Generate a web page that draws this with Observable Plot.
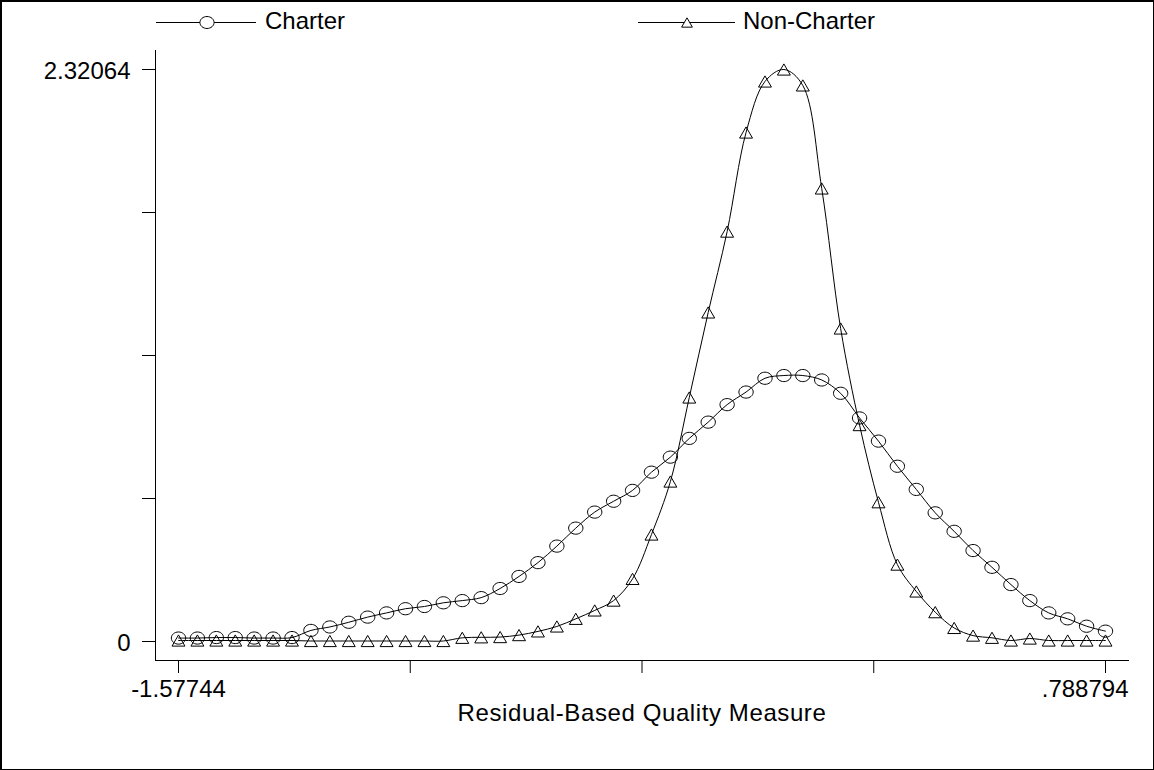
<!DOCTYPE html>
<html>
<head>
<meta charset="utf-8">
<script src="https://cdn.jsdelivr.net/npm/d3@7"></script>
<script src="https://cdn.jsdelivr.net/npm/@observablehq/plot@0.6"></script>
<style>
  html, body { margin: 0; padding: 0; background: #fff; }
  #page { position: relative; width: 1154px; height: 770px; overflow: hidden; background: #fff;
          font-family: "Liberation Sans", Arial, sans-serif; }
  #legend { display: block; }
  #chart svg { display: block; }
  #border { position: absolute; left: 0; top: 0; width: 1154px; height: 770px; box-sizing: border-box;
            border-top: 2px solid #000; border-left: 2px solid #000; border-right: 1px solid #000;
            border-bottom: 1px solid #000; pointer-events: none; }
</style>
</head>
<body>
<div id="page">
  <svg id="legend" width="1154" height="45"></svg>
  <div id="chart"></div>
  <div id="border"></div>
</div>
<script>
// ---- data ----
const seriesNames = ["Charter", "Non-Charter"];
const xGrid = [-1.57744, -1.52915, -1.48086, -1.43257, -1.38428, -1.33599, -1.28770, -1.23941, -1.19112, -1.14283,
               -1.09454, -1.04625, -0.99796, -0.94967, -0.90138, -0.85308, -0.80479, -0.75650, -0.70821, -0.65992,
               -0.61163, -0.56334, -0.51505, -0.46676, -0.41847, -0.37018, -0.32189, -0.27360, -0.22531, -0.17702,
               -0.12873, -0.08044, -0.03215, 0.01614, 0.06443, 0.11272, 0.16102, 0.20931, 0.25760, 0.30589,
               0.35418, 0.40247, 0.45076, 0.49905, 0.54734, 0.59563, 0.64392, 0.69221, 0.74050, 0.788794];
const charter = [0.014, 0.014, 0.016, 0.016, 0.014, 0.014, 0.016, 0.045, 0.059, 0.078,
                 0.099, 0.116, 0.133, 0.142, 0.157, 0.166, 0.178, 0.215, 0.264, 0.320,
                 0.387, 0.460, 0.525, 0.569, 0.613, 0.687, 0.748, 0.824, 0.890, 0.961,
                 1.012, 1.068, 1.079, 1.079, 1.061, 1.007, 0.907, 0.813, 0.711, 0.617,
                 0.522, 0.447, 0.369, 0.301, 0.231, 0.166, 0.116, 0.092, 0.062, 0.042];
const nonCharter = [0.004, 0.004, 0.004, 0.004, 0.004, 0.004, 0.004, 0.002, 0.002, 0.002,
                    0.002, 0.002, 0.002, 0.002, 0.002, 0.015, 0.017, 0.018, 0.026, 0.041,
                    0.061, 0.092, 0.126, 0.166, 0.254, 0.434, 0.649, 0.990, 1.335, 1.663,
                    2.065, 2.272, 2.32064, 2.256, 1.838, 1.270, 0.878, 0.565, 0.312, 0.203,
                    0.119, 0.055, 0.024, 0.015, 0.004, 0.012, 0.004, 0.004, 0.004, 0.004];
const xTicks = [-1.57744, -0.985881, -0.394323, 0.197236, 0.788794];
const xTickLabels = ["-1.57744", "", "", "", ".788794"];
const yTicks = [0, 0.58016, 1.16032, 1.74048, 2.32064];
const yTickLabels = ["0", "", "", "", "2.32064"];
const xTitle = "Residual-Based Quality Measure";

// ---- custom symbols (Stata-like hollow markers) ----
const ellipseSymbol = {
  draw(ctx, size) {
    const r = Math.sqrt(size / Math.PI);
    const rx = r * 1.12, ry = r * 0.95, k = 0.5523;
    ctx.moveTo(rx, 0);
    ctx.bezierCurveTo(rx, ry * k, rx * k, ry, 0, ry);
    ctx.bezierCurveTo(-rx * k, ry, -rx, ry * k, -rx, 0);
    ctx.bezierCurveTo(-rx, -ry * k, -rx * k, -ry, 0, -ry);
    ctx.bezierCurveTo(rx * k, -ry, rx, -ry * k, rx, 0);
    ctx.closePath();
  }
};
const triSymbol = {
  draw(ctx, size) {
    const s = Math.sqrt(4 * size / Math.sqrt(3));
    const h = s * Math.sqrt(3) / 2;
    ctx.moveTo(0, -h / 2);
    ctx.lineTo(s / 2, h / 2);
    ctx.lineTo(-s / 2, h / 2);
    ctx.closePath();
  }
};

const rows = xGrid.flatMap((x, i) => [
  {x, y: charter[i], s: seriesNames[0]},
  {x, y: nonCharter[i], s: seriesNames[1]}
]);

const font = "'Liberation Sans', Arial, sans-serif";
const fs = 24;

const chart = Plot.plot({
  width: 1154,
  height: 725,
  marginTop: 5,
  marginBottom: 110,
  marginLeft: 155,
  marginRight: 26,
  style: {fontFamily: font, fontSize: fs + "px", background: "transparent", color: "#000", overflow: "visible"},
  x: {domain: [xTicks[0], xTicks[xTicks.length - 1]], insetLeft: 23, insetRight: 23},
  y: {domain: [yTicks[0], yTicks[yTicks.length - 1]], insetTop: 19, insetBottom: 19},
  marks: [
    Plot.frame({anchor: "left", stroke: "#000"}),
    Plot.frame({anchor: "bottom", stroke: "#000"}),
    Plot.axisY({ticks: yTicks, tickSize: 13, label: null, stroke: "#000", tickFormat: () => ""}),
    Plot.axisY({ticks: yTicks, tickSize: 0, tickPadding: 25, label: null, dy: 2,
                fontSize: fs, tickFormat: d => yTickLabels[yTicks.indexOf(d)]}),
    Plot.axisX({ticks: xTicks, tickSize: 13, label: null, stroke: "#000", tickFormat: () => ""}),
    Plot.text([0], {x: () => xTicks[0], frameAnchor: "bottom", lineAnchor: "top", dy: 19,
                    text: () => xTickLabels[0], fontSize: fs, fill: "#000"}),
    Plot.text([0], {x: () => xTicks[4], frameAnchor: "bottom", lineAnchor: "top", dy: 19, dx: 23,
                    textAnchor: "end", text: () => xTickLabels[4], fontSize: fs, fill: "#000"}),
    Plot.text([xTitle], {frameAnchor: "bottom", lineAnchor: "middle", dy: 53, text: d => d,
                         fontSize: fs, fill: "#000"}),
    Plot.line(rows, {x: "x", y: "y", z: "s", curve: "catmull-rom", stroke: "#000", strokeWidth: 1}),
    Plot.dot(rows.filter(d => d.s === seriesNames[0]),
             {x: "x", y: "y", symbol: ellipseSymbol, r: 6.4, stroke: "#000", fill: "none", strokeWidth: 1}),
    Plot.dot(rows.filter(d => d.s === seriesNames[1]),
             {x: "x", y: "y", symbol: triSymbol, r: 4.8, stroke: "#000", fill: "none", strokeWidth: 1})
  ]
});
d3.select(chart).selectAll("text")
  .filter(function() { return this.textContent === xTitle; })
  .attr("letter-spacing", "0.6px");
document.getElementById("chart").appendChild(chart);

// ---- legend (above the plot SVG) ----
const leg = d3.select("#legend");
const legendItems = [
  {name: seriesNames[0], x1: 156, x2: 256, mx: 207, sym: ellipseSymbol, size: Math.PI * 6.3 * 6.3, tx: 265},
  {name: seriesNames[1], x1: 638, x2: 735, mx: 687, sym: triSymbol, size: Math.PI * 4 * 4, tx: 743}
];
legendItems.forEach(it => {
  leg.append("line").attr("x1", it.x1).attr("x2", it.x2).attr("y1", 22.5).attr("y2", 22.5)
     .attr("stroke", "#000").attr("stroke-width", 1);
  leg.append("path").attr("d", d3.symbol(it.sym, it.size)()).attr("transform", `translate(${it.mx},22.5)`)
     .attr("fill", "#fff").attr("stroke", "#000").attr("stroke-width", 1);
  leg.append("text").attr("x", it.tx).attr("y", 29).text(it.name)
     .attr("font-family", font).attr("font-size", fs).attr("fill", "#000");
});
</script>
</body>
</html>
